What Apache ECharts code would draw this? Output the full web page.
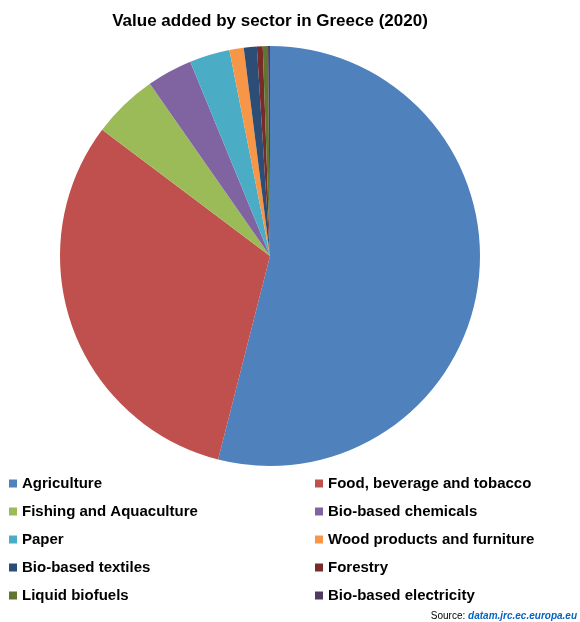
<!DOCTYPE html>
<html>
<head>
<meta charset="utf-8">
<script src="https://cdn.jsdelivr.net/npm/echarts@6/dist/echarts.min.js"></script>
<style>
  html, body { margin: 0; padding: 0; background: #fff; }
  #chart { width: 580px; height: 622px; }
</style>
</head>
<body>
<div id="chart"></div>
<script>
// sectors, clockwise from 12 o'clock
const sectors = ['Agriculture', 'Food, beverage and tobacco', 'Fishing and Aquaculture', 'Bio-based chemicals',
  'Paper', 'Wood products and furniture', 'Bio-based textiles', 'Forestry', 'Liquid biofuels', 'Bio-based electricity'];
// share of value added (%)
const shares = [54.0, 31.3, 5.05, 3.5, 3.1, 1.1, 1.0, 0.45, 0.4, 0.15];
const colors = ['#4F81BD', '#C0504D', '#9BBB59', '#8064A2', '#4BACC6', '#F79646', '#2C4D75', '#772C2A', '#5F7530', '#4D3B62'];

const legendLeft = [sectors[0], sectors[2], sectors[4], sectors[6], sectors[8]];
const legendRight = [sectors[1], sectors[3], sectors[5], sectors[7], sectors[9]];

const font = "'Liberation Sans', 'Open Sans', sans-serif";
const chart = echarts.init(document.getElementById('chart'));

const legendBase = {
  orient: 'vertical',
  top: 471,
  itemWidth: 8,
  itemHeight: 8,
  itemGap: 13,
  icon: 'rect',
  selectedMode: false,
  textStyle: { fontFamily: font, fontWeight: 'bold', fontSize: 15, color: '#000', padding: [0, 0, 0, 0] }
};

chart.setOption({
  color: colors,
  title: {
    text: 'Value added by sector in Greece (2020)',
    left: 265, top: 8, textAlign: 'center',
    textStyle: { fontFamily: font, fontWeight: 'bold', fontSize: 17, color: '#000' }
  },
  legend: [
    Object.assign({}, legendBase, { left: 4, data: legendLeft }),
    Object.assign({}, legendBase, { left: 310, data: legendRight })
  ],
  graphic: [{
    type: 'text',
    right: 3, top: 611,
    style: {
      text: 'Source: {l|datam.jrc.ec.europa.eu}',
      fontFamily: font, fontSize: 10, fill: '#000',
      rich: { l: { fontFamily: font, fontSize: 10, fontWeight: 'bold', fontStyle: 'italic', fill: '#0563C1', textDecoration: 'underline' } }
    }
  }],
  series: [{
    type: 'pie',
    center: [270, 256],
    radius: 210,
    startAngle: 90,
    clockwise: true,
    label: { show: false },
    labelLine: { show: false },
    emphasis: { disabled: true },
    data: sectors.map((name, i) => ({ name: name, value: shares[i] }))
  }]
});
</script>
</body>
</html>
